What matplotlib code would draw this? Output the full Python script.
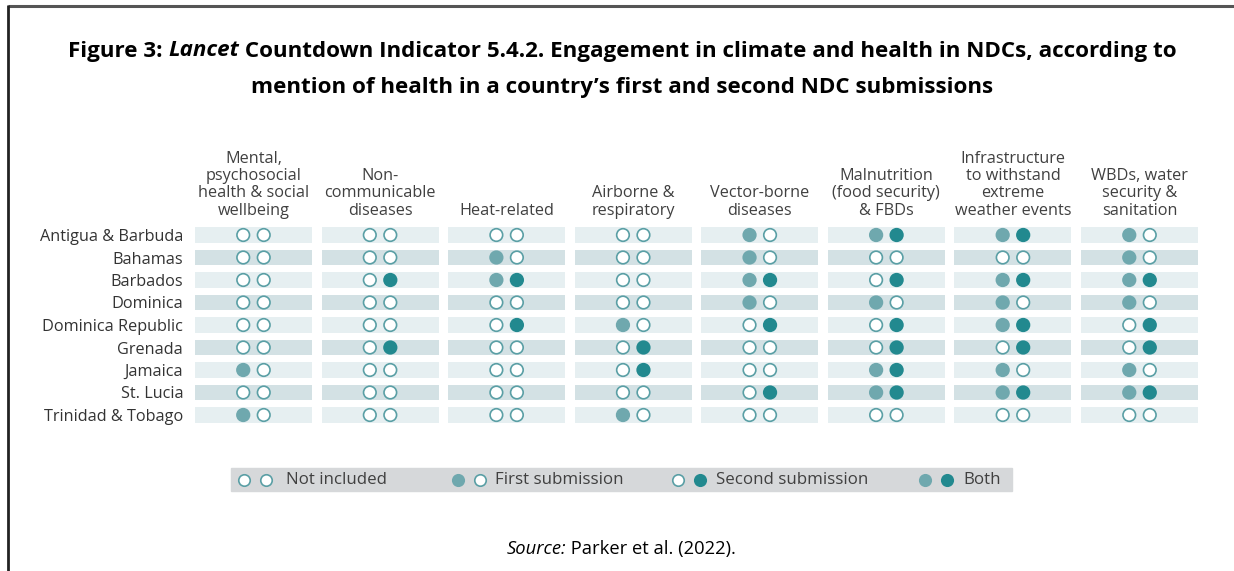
import matplotlib.pyplot as plt
import numpy as np
from matplotlib.patches import Rectangle

countries = ["Antigua & Barbuda", "Bahamas", "Barbados", "Dominica",
             "Dominica Republic", "Grenada", "Jamaica", "St. Lucia",
             "Trinidad & Tobago"]
topics = ["Mental,\npsychosocial\nhealth & social\nwellbeing",
          "Non-\ncommunicable\ndiseases",
          "Heat-related",
          "Airborne &\nrespiratory",
          "Vector-borne\ndiseases",
          "Malnutrition\n(food security)\n& FBDs",
          "Infrastructure\nto withstand\nextreme\nweather events",
          "WBDs, water\nsecurity &\nsanitation"]

# 1 = health mentioned in that submission
first = [[0, 0, 0, 0, 1, 1, 1, 1],
         [0, 0, 1, 0, 1, 0, 0, 1],
         [0, 0, 1, 0, 1, 0, 1, 1],
         [0, 0, 0, 0, 1, 1, 1, 1],
         [0, 0, 0, 1, 0, 0, 1, 0],
         [0, 0, 0, 0, 0, 0, 0, 0],
         [1, 0, 0, 0, 0, 1, 1, 1],
         [0, 0, 0, 0, 0, 1, 1, 1],
         [1, 0, 0, 1, 0, 0, 0, 0]]
second = [[0, 0, 0, 0, 0, 1, 1, 0],
          [0, 0, 0, 0, 0, 0, 0, 0],
          [0, 1, 1, 0, 1, 1, 1, 1],
          [0, 0, 0, 0, 0, 0, 0, 0],
          [0, 0, 1, 0, 1, 1, 1, 1],
          [0, 1, 0, 1, 0, 1, 1, 1],
          [0, 0, 0, 1, 0, 1, 0, 0],
          [0, 0, 0, 0, 1, 1, 1, 1],
          [0, 0, 0, 0, 0, 0, 0, 0]]

legend_labels = ["Not included", "First submission", "Second submission", "Both"]
legend_codes = [(0, 0), (1, 0), (0, 1), (1, 1)]

C_FIRST = "#6fa8ae"
C_SECOND = "#22898f"
C_EDGE = "#5a9fa5"
BAR_LIGHT = "#e6eff1"
BAR_DARK = "#d3e1e4"
TXT = "#404040"
FONT = "Open Sans"

W, H = 1234, 571
fig = plt.figure(figsize=(W / 100, H / 100), dpi=100)

# overlay axes in pixel units
bg = fig.add_axes([0, 0, 1, 1])
bg.set_xlim(0, W)
bg.set_ylim(H, 0)
bg.axis("off")
bg.plot([8, W + 10], [6, 6], color="#555555", lw=2.2, solid_capstyle="butt")
bg.plot([8, 8], [5, H + 10], color="#222222", lw=2, solid_capstyle="butt")

renderer = fig.canvas.get_renderer()


def runs(parts, xc, y, size, fam):
    # draw a line of mixed-style text centred on xc
    objs = []
    for s, style in parts:
        t = bg.text(0, y, s, fontsize=size, fontweight=style[0], fontstyle=style[1],
                    family=fam, color="black", va="baseline", ha="left")
        objs.append(t)
    widths = [o.get_window_extent(renderer).width for o in objs]
    x = xc - sum(widths) / 2
    for o, w in zip(objs, widths):
        o.set_x(x)
        x += w


B = ("bold", "normal")
BI = ("bold", "italic")
runs([("Figure 3: ", B), ("Lancet", BI),
      (" Countdown Indicator 5.4.2. Engagement in climate and health in NDCs, according to", B)],
     622, 56.5, 16.1, FONT)
runs([("mention of health in a country\u2019s first and second NDC submissions", B)],
     622, 93, 16.1, FONT)
runs([("Source:", ("normal", "italic")), (" Parker et al. (2022).", ("normal", "normal"))],
     621, 554, 13.2, FONT)

# grid axes
x0, x1 = 195, 1198
y_top, y_bot = 223.75, 426.25
ax = fig.add_axes([x0 / W, 1 - y_bot / H, (x1 - x0) / W, (y_bot - y_top) / H])
ncol, nrow = len(topics), len(countries)
bw = 0.924
ax.set_xlim(0, ncol - 1 + bw)
ax.set_ylim(nrow - 0.5, -0.5)
for s in ax.spines.values():
    s.set_visible(False)

rows = np.arange(nrow)
for i in range(ncol):
    ax.barh(rows, bw, left=i, height=0.71, align="center",
            color=[BAR_LIGHT if r % 2 == 0 else BAR_DARK for r in rows], zorder=1)
    cx = i + bw / 2
    d = 0.081
    f = np.array([first[r][i] for r in rows])
    s2 = np.array([second[r][i] for r in rows])
    ax.scatter(np.full(nrow, cx - d), rows, s=82,
               c=[C_FIRST if v else "white" for v in f],
               edgecolors=[C_FIRST if v else C_EDGE for v in f], linewidths=1.2, zorder=3)
    ax.scatter(np.full(nrow, cx + d), rows, s=82,
               c=[C_SECOND if v else "white" for v in s2],
               edgecolors=[C_SECOND if v else C_EDGE for v in s2], linewidths=1.2, zorder=3)
    ax.text(cx, -0.72, topics[i], ha="center", va="bottom", fontsize=11.7,
            family=FONT, color=TXT, linespacing=1.11)

ax.set_xticks([])
ax.set_yticks(rows)
ax.set_yticklabels(countries, fontsize=11.7, family=FONT, color="#333333")
ax.tick_params(axis="y", length=0, pad=8.5)

# legend strip
bg.add_patch(Rectangle((231, 468), 781, 23, color="#d6d8da", zorder=1))
leg_x = [244, 458, 678, 925]
leg_tx = [286, 495, 716, 963]
for (a, b), lab, lx, tx in zip(legend_codes, legend_labels, leg_x, leg_tx):
    bg.scatter([lx], [479.5], s=68, c=C_FIRST if a else "white",
               edgecolors=C_FIRST if a else C_EDGE, linewidths=1.2, zorder=3)
    bg.scatter([lx + 22], [479.5], s=68, c=C_SECOND if b else "white",
               edgecolors=C_SECOND if b else C_EDGE, linewidths=1.2, zorder=3)
    bg.text(tx, 480, lab, fontsize=12.2, family=FONT, color=TXT,
            va="center", ha="left", zorder=3)

fig.savefig("out.png", dpi=100)
